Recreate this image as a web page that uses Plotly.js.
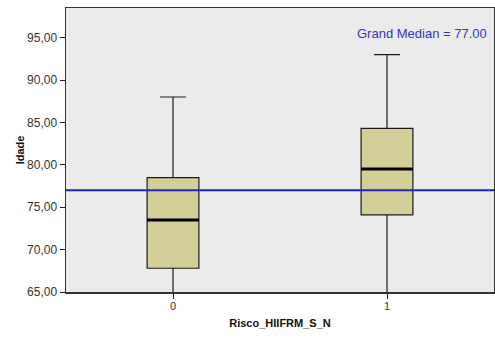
<!DOCTYPE html>
<html>
<head>
<meta charset="utf-8">
<script src="https://cdn.plot.ly/plotly-3.0.1.min.js"></script>
<style>html,body{margin:0;padding:0;background:#fff;}#chart{width:495px;height:338px;}</style>
</head>
<body>
<div id="chart"></div>
<script>
// Data
var categories = ['0', '1'];
var upperWhisker = [88, 93];
var q3 = [78.5, 84.3];
var medians = [73.5, 79.5];
var q1 = [67.8, 74.1];
var lowerWhisker = [64, 64];
var grandMedian = 77.0;
var yTickVals = [65, 70, 75, 80, 85, 90, 95];
var yTickText = yTickVals.map(function(v){ return v.toFixed(2).replace('.', ','); });

var pos = categories.map(function(c, i){ return i; });
var boxWidth = 0.242;

var boxTrace = {
  type: 'box',
  x: pos,
  q1: q1,
  median: medians,
  q3: q3,
  lowerfence: lowerWhisker,
  upperfence: upperWhisker,
  width: boxWidth,
  whiskerwidth: 0.5,
  fillcolor: '#D4CE98',
  line: {color: '#1a1a1a', width: 1.2},
  hoverinfo: 'skip',
  showlegend: false
};

// thick median lines
var mx = [], my = [];
pos.forEach(function(p, i){
  mx.push(p - boxWidth/2, p + boxWidth/2, null);
  my.push(medians[i], medians[i], null);
});
var medTrace = {
  type: 'scatter', mode: 'lines', x: mx, y: my,
  line: {color: '#000000', width: 3},
  hoverinfo: 'skip', showlegend: false, cliponaxis: true
};

var layout = {
  width: 495, height: 338,
  margin: {l: 66, r: 1, t: 8, b: 46},
  paper_bgcolor: '#ffffff',
  plot_bgcolor: '#EBEBEB',
  font: {family: 'Liberation Sans, Arial, sans-serif', color: '#333333', size: 12},
  xaxis: {
    range: [-0.5, 1.5],
    tickvals: pos, ticktext: categories,
    ticks: 'outside', ticklen: 5, tickcolor: '#222222', tickwidth: 1,
    ticklabelstandoff: -2,
    showgrid: false, zeroline: false,
    showline: true, linecolor: '#333333', linewidth: 1.5, mirror: true,
    tickfont: {size: 11, color: '#333333'},
    title: {text: '<b>Risco_HIIFRM_S_N</b>', font: {size: 11, color: '#111111'}, standoff: 8}
  },
  yaxis: {
    range: [65, 98.5],
    tickvals: yTickVals, ticktext: yTickText,
    ticks: 'outside', ticklen: 5, tickcolor: '#222222', tickwidth: 1,
    showgrid: false, zeroline: false,
    showline: true, linecolor: '#333333', linewidth: 1.5, mirror: true,
    tickfont: {size: 12, color: '#333333'},
    title: {text: '<b>Idade</b>', font: {size: 11, color: '#111111'}, standoff: 0}
  },
  shapes: [{
    type: 'line', xref: 'paper', yref: 'y',
    x0: 0, x1: 1, y0: grandMedian, y1: grandMedian,
    line: {color: '#2222CC', width: 2}, layer: 'above'
  }],
  annotations: [{
    xref: 'paper', yref: 'paper', x: 0.988, y: 0.91,
    xanchor: 'right', yanchor: 'middle', showarrow: false,
    text: 'Grand Median = ' + grandMedian.toFixed(2),
    font: {size: 13, color: '#3333CC'}
  }]
};

Plotly.newPlot('chart', [boxTrace, medTrace], layout, {displayModeBar: false, staticPlot: true});
</script>
</body>
</html>
